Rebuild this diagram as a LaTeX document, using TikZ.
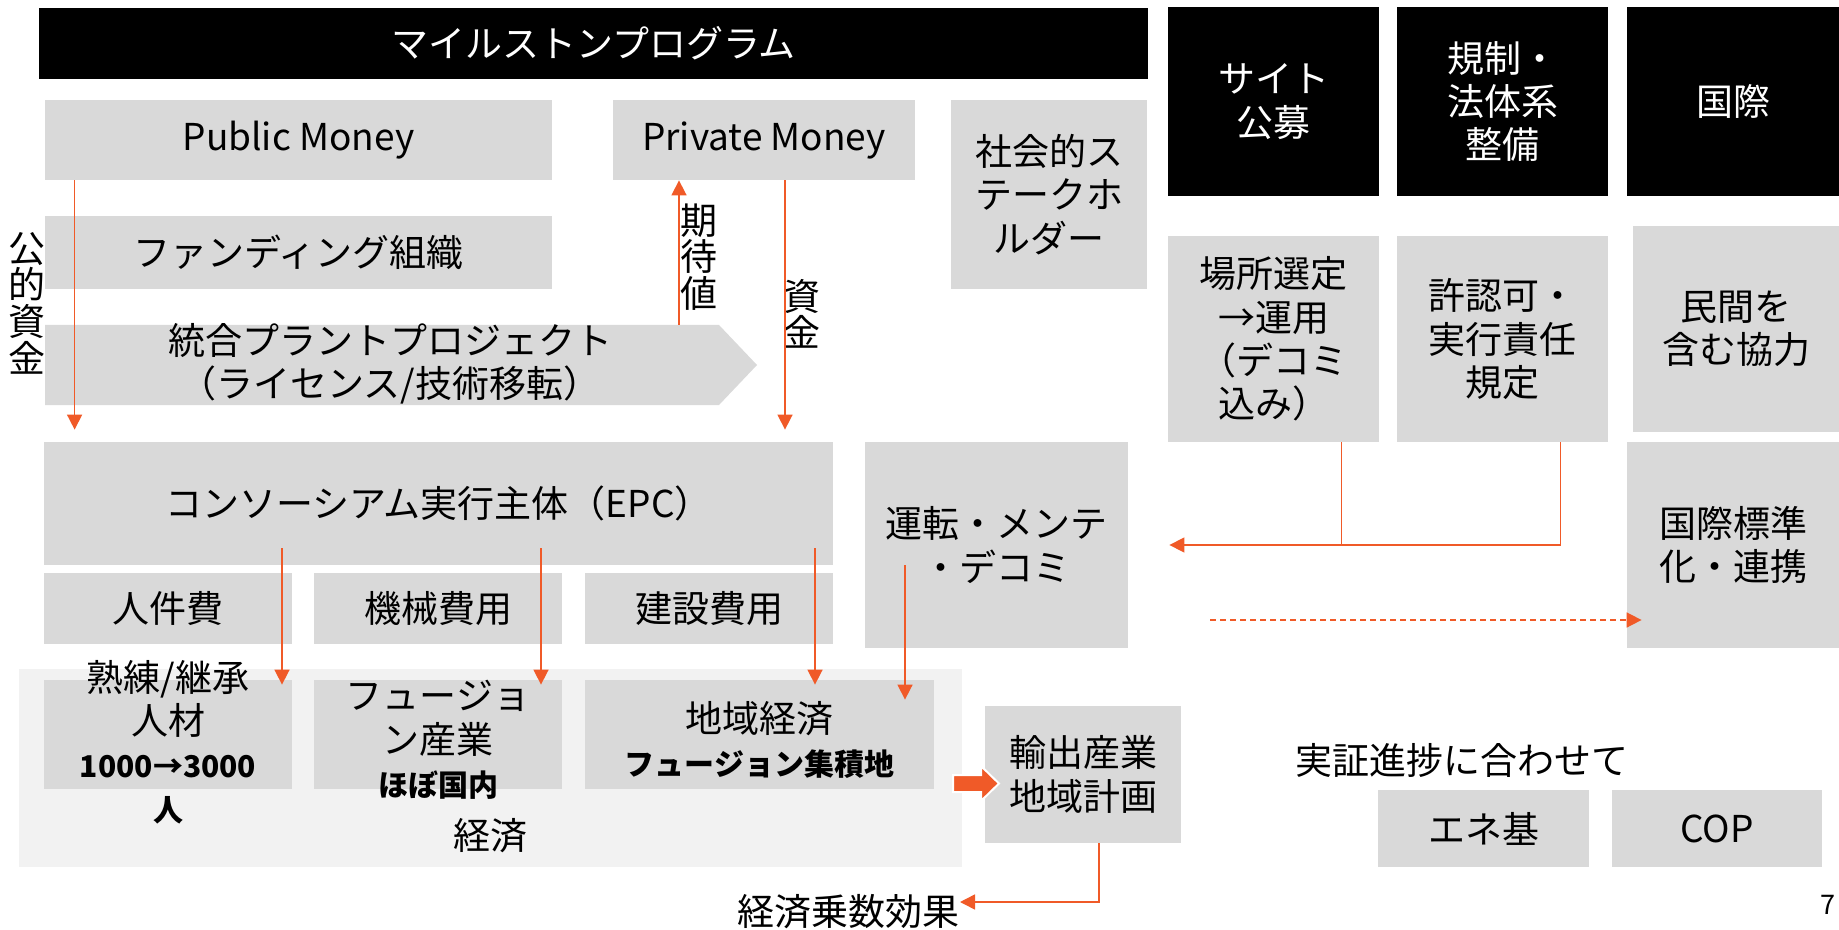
\documentclass[tikz,border=0pt]{standalone}
\usepackage{fontspec}
\setmainfont{Noto Sans CJK JP}
\usetikzlibrary{arrows.meta,calc}
\definecolor{boxgrey}{HTML}{D9D9D9}
\definecolor{regiongrey}{HTML}{F2F2F2}
\definecolor{accent}{RGB}{240,90,40}
\newcommand\bnum[1]{{\bfseries\fontsize{15pt}{18pt}\selectfont #1}}
\begin{document}
\begin{tikzpicture}[x=0.5pt,y=-0.5pt,
  lbl/.style={font=\fontsize{18.5pt}{21.7pt}\selectfont, align=center, inner sep=0pt, text=black},
  vlbl/.style={lbl, font=\fontsize{18.5pt}{18.3pt}\selectfont},
  gbox/.style={lbl, fill=boxgrey, draw=none, rectangle},
  bbox/.style={lbl, fill=black, text=white, rectangle},
  flow/.style={draw=accent, line width=0.8pt, -{Triangle[length=7.5pt,width=7.5pt]}},
  flowline/.style={draw=accent, line width=0.8pt},
]
\path[use as bounding box] (0,0) rectangle (1839,930);

% economy region
\node[fill=regiongrey, inner sep=0pt, minimum width=471.5pt, minimum height=99pt] (econ) at (490.5,768) {};

% title
\node[bbox, minimum width=554.5pt, minimum height=35.5pt] (title) at (593.5,43.5) {マイルストンプログラム};

% money
\node[gbox, minimum width=253.5pt, minimum height=40pt] (pub) at (298.5,140) {Public Money};
\node[gbox, minimum width=151pt, minimum height=40pt] (priv) at (764,140) {Private Money};
\node[gbox, minimum width=253.5pt, minimum height=36.5pt] (fund) at (298.5,252.5) {ファンディング組織};

% integrated plant project (chevron)
\fill[boxgrey] (45,325) -- (719,325) -- (757,365) -- (719,405) -- (45,405) -- cycle;
\node[lbl] (plant) at (390,364) {統合プラントプロジェクト\\（ライセンス/技術移転）};
\coordinate (plantq) at (679,325);

% stakeholders
\node[gbox, minimum width=98pt, minimum height=94.5pt] (social) at (1049,194.5) {社会的ス\\テークホ\\ルダー};

% black headers
\node[bbox, minimum width=105.5pt, minimum height=94.5pt] (site) at (1273.5,101.5) {サイト\\公募};
\node[bbox, minimum width=105.5pt, minimum height=94.5pt] (reg) at (1502.5,101.5) {規制・\\法体系\\整備};
\node[bbox, minimum width=106pt, minimum height=94.5pt] (intl) at (1733,101.5) {国際};

% right grey boxes
\node[gbox, minimum width=105.5pt, minimum height=103pt] (place) at (1273.5,339) {場所選定\\→運用\\（デコミ\\込み）};
\node[gbox, minimum width=105.5pt, minimum height=103pt] (perm) at (1502.5,339) {許認可・\\実行責任\\規定};
\node[gbox, minimum width=103pt, minimum height=103pt] (coop) at (1736,329) {民間を\\含む協力};
\node[gbox, minimum width=106pt, minimum height=103pt] (std) at (1733,545) {国際標準\\化・連携};
\node[gbox, minimum width=131.5pt, minimum height=103pt] (ops) at (996.5,545) {運転・メンテ\\・デコミ};

% EPC and costs
\node[gbox, minimum width=394.5pt, minimum height=61.5pt] (epc) at (438.5,503.5) {コンソーシアム実行主体（EPC）};
\node[gbox, minimum width=124pt, minimum height=35.5pt] (labor) at (168,608.5) {人件費};
\node[gbox, minimum width=124pt, minimum height=35.5pt] (mach) at (438,608.5) {機械費用};
\node[gbox, minimum width=124pt, minimum height=35.5pt] (constr) at (709,608.5) {建設費用};

% economy boxes
\node[gbox, minimum width=124pt, minimum height=54.5pt] (talent) at (168,734.5) {};
\node[gbox, minimum width=124pt, minimum height=54.5pt] (fusion) at (438,734.5) {};
\node[gbox, minimum width=174.5pt, minimum height=54.5pt] (regional) at (759.5,734.5) {};
\node[lbl] (talenttxt) at (168,742) {熟練/継承\\人材\\\bnum{1000→3000}\\\bnum{人}};
\node[lbl] (fusiontxt) at (438,740) {フュージョ\\ン産業\\\bnum{ほぼ国内}};
\node[lbl] (regionaltxt) at (759.5,740) {地域経済\\\bnum{フュージョン集積地}};
\node[lbl] (econlbl) at (490,836) {経済};

% export
\node[gbox, minimum width=98pt, minimum height=68.5pt] (export) at (1083,774.5) {輸出産業\\地域計画};
\filldraw[fill=accent, draw=white, line width=1pt] (953,775) -- (981,775) -- (981,766) -- (999,783.5) -- (981,801) -- (981,792) -- (953,792) -- cycle;
\node[lbl, anchor=east] (mult) at (960,912) {経済乗数効果};

% bottom right
\node[lbl] (sync) at (1462,760) {実証進捗に合わせて};
\node[gbox, minimum width=105.5pt, minimum height=38.5pt] (ene) at (1483.5,828.5) {エネ基};
\node[gbox, minimum width=105pt, minimum height=38.5pt] (cop) at (1717,828.5) {COP};
\node[inner sep=0pt, font=\fontsize{13.5pt}{15pt}\selectfont] (pg) at (1828,905) {7};

% vertical labels
\node[vlbl] (pubfund) at (27,303) {公\\的\\資\\金};
\node[vlbl] (expect) at (699,257) {期\\待\\値};
\node[vlbl] (capital) at (802,314) {資\\金};

% connectors
\draw[flow, shorten >=6pt] ([xshift=15pt]pub.south west) -- ([xshift=15pt]pub.south west |- epc.north);
\draw[flow] (plantq) -- (plantq |- priv.south);
\draw[flow, shorten >=6pt] ([xshift=10.5pt]priv.south) -- ([xshift=10.5pt]priv.south |- epc.north);

\coordinate (e1) at (282,548);
\coordinate (e2) at (541,548);
\coordinate (e3) at (815,548);
\coordinate (o1) at (905,565);
\draw[flow, shorten >=-2.5pt] (e1) -- (e1 |- talent.north);
\draw[flow, shorten >=-2.5pt] (e2) -- (e2 |- fusion.north);
\draw[flow, shorten >=-2.5pt] (e3) -- (e3 |- regional.north);
\draw[flow, shorten >=-10pt] (o1) -- (o1 |- regional.north);

\draw[flowline] ([xshift=-19pt]place.south east) -- ([xshift=-19pt]place.south east |- ops.east);
\draw[flow, shorten >=20.5pt] ([xshift=-24pt]perm.south east) |- (ops.east);

\coordinate (d0) at (1210,620);
\draw[flow, dash pattern=on 3pt off 2pt, shorten >=-7.5pt] (d0) -- (d0 -| std.west);

\draw[flow] ([xshift=8pt]export.south) |- ([yshift=5pt]mult.east);
\end{tikzpicture}
\end{document}
